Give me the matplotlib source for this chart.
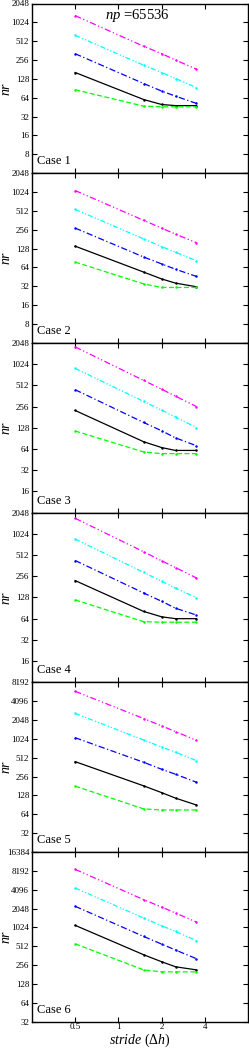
import numpy as np
import matplotlib
matplotlib.use("Agg")
import matplotlib.pyplot as plt
from matplotlib.ticker import FixedLocator, NullLocator

plt.rcParams['font.family'] = ['Liberation Serif', 'DejaVu Serif']
plt.rcParams['mathtext.fontset'] = 'custom'
plt.rcParams['mathtext.rm'] = 'Liberation Serif'
plt.rcParams['mathtext.it'] = 'Liberation Serif:italic'

# stride values shared by every curve
stride = [0.5, 1.5, 2.0, 2.5, 3.5]

# nr values per case, one list per curve (magenta, cyan, blue, black, green)
case1_magenta = [1310, 425, 324, 256, 183]
case1_cyan = [635, 212, 162, 130, 93]
case1_blue = [323, 108, 82, 68, 52]
case1_black = [162, 60, 50, 48, 48]
case1_green = [86, 47, 46, 46, 46]

case2_magenta = [1082, 362, 272, 218, 159]
case2_cyan = [541, 183, 138, 112, 82]
case2_blue = [272, 94, 73, 60, 46]
case2_black = [140, 54, 42, 36, 31.5]
case2_green = [78, 35, 30.7, 30.7, 30.7]

case3_magenta = [1795, 601, 452, 359, 256]
case3_cyan = [891, 302, 228, 181, 129]
case3_blue = [443, 152, 116, 92, 71]
case3_black = [225, 81, 67, 61, 61]
case3_green = [115, 58, 55, 55, 55]

case4_magenta = [1700, 569, 424, 340, 242]
case4_cyan = [862, 290, 218, 173, 127]
case4_blue = [428, 148, 113, 90, 72]
case4_black = [222, 81, 68, 64, 64]
case4_green = [118, 58, 57, 57, 57]

case5_magenta = [5880, 2160, 1650, 1340, 968]
case5_cyan = [2610, 982, 760, 626, 461]
case5_blue = [1067, 433, 335, 279, 208]
case5_black = [443, 182, 142, 116, 90]
case5_green = [180, 78, 75, 75, 75]

case6_magenta = [8650, 2840, 2165, 1737, 1245]
case6_cyan = [4360, 1448, 1090, 885, 628]
case6_blue = [2225, 735, 555, 446, 324]
case6_black = [1105, 375, 290, 241, 215]
case6_green = [560, 215, 200, 200, 200]

cases = [
    [case1_magenta, case1_cyan, case1_blue, case1_black, case1_green],
    [case2_magenta, case2_cyan, case2_blue, case2_black, case2_green],
    [case3_magenta, case3_cyan, case3_blue, case3_black, case3_green],
    [case4_magenta, case4_cyan, case4_blue, case4_black, case4_green],
    [case5_magenta, case5_cyan, case5_blue, case5_black, case5_green],
    [case6_magenta, case6_cyan, case6_blue, case6_black, case6_green],
]
case_labels = ["Case 1", "Case 2", "Case 3", "Case 4", "Case 5", "Case 6"]

# y range of each panel as powers of two (low, high)
ylims = [(2, 11), (2, 11), (3, 11), (3, 11), (4, 13), (5, 14)]

xticks = [0.5, 1, 2, 4]
xticklabels = ["0.5", "1", "2", "4"]

colors = ["#ff00ff", "#00ffff", "#0000ff", "#000000", "#00ff00"]
styles = [(0, (5, 2, 1, 2, 1, 2)), (0, (4, 2, 1, 1.5, 1, 1.5)),
          (0, (5, 2, 1, 2)), "-", (0, (4, 2))]

W, H = 249, 1049
fig = plt.figure(figsize=(W / 100, H / 100), dpi=100)

left, right = 32, 248
top = 3.5
ph = 169.7

for i, curves in enumerate(cases):
    y0 = top + i * ph
    ax = fig.add_axes([left / W, 1 - (y0 + ph) / H, (right - left) / W, ph / H])
    ax.set_xscale('log', base=2)
    ax.set_yscale('log', base=2)
    for vals, c, ls in zip(curves, colors, styles):
        ax.plot(stride, vals, color=c, linestyle=ls, lw=0.9,
                marker='o', markersize=1.8, markeredgewidth=0)
    lo, hi = ylims[i]
    ax.set_ylim(2 ** lo, 2 ** hi)
    ax.set_xlim(0.25, 8)
    yt = [2 ** k for k in range(lo, hi + 1)]
    ax.yaxis.set_major_locator(FixedLocator(yt))
    ylabels = [str(v) for v in yt]
    if i < 5:
        ylabels[0] = ""
    ax.set_yticklabels(ylabels)
    ax.yaxis.set_minor_locator(NullLocator())
    ax.xaxis.set_major_locator(FixedLocator(xticks))
    ax.xaxis.set_minor_locator(NullLocator())
    if i == 5:
        ax.set_xticklabels(xticklabels)
    else:
        ax.set_xticklabels([])
    ax.tick_params(direction='in', top=True, right=True, length=3.5,
                   width=0.8, labelsize=6.5, pad=2)
    ax.tick_params(axis='x', pad=1)
    for s in ax.spines.values():
        s.set_linewidth(1.0)
    # y label "nr" sits at the far left of each panel
    fig.text(6.5 / W, 1 - (y0 + ph / 2) / H, r"$nr$", fontsize=10,
             rotation=90, ha='center', va='center')
    ax.text(0.023, 0.035, case_labels[i], transform=ax.transAxes,
            fontsize=9, ha='left', va='bottom')
    if i == 0:
        ax.text(0.486, 0.93, r"$np$ =65536", transform=ax.transAxes,
                fontsize=10.5, ha='center', va='center')

fig.text(140 / W, 1 - 1040.5 / H, r"$stride$ ($\Delta h$)", fontsize=10,
         ha='center', va='center')

fig.savefig("out.png", dpi=100)
